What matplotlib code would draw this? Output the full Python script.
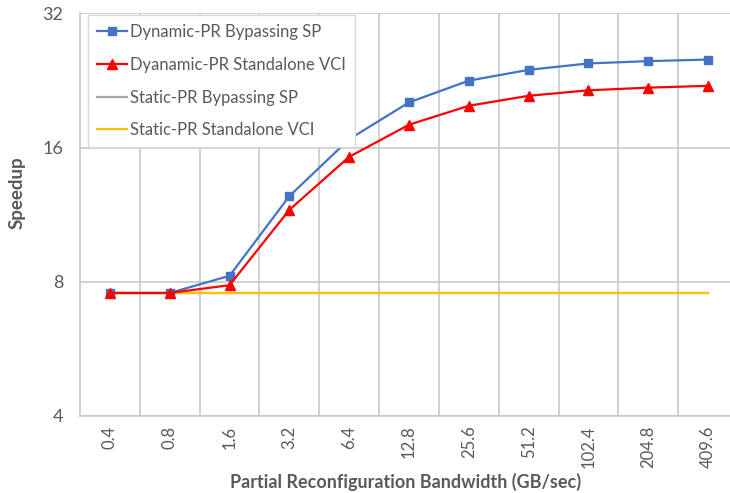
import matplotlib
matplotlib.use("Agg")
import matplotlib.pyplot as plt
from matplotlib.ticker import FixedLocator, FixedFormatter, NullFormatter

plt.rcParams['font.family'] = ['Lato', 'DejaVu Sans']

categories = ["0.4", "0.8", "1.6", "3.2", "6.4", "12.8", "25.6", "51.2", "102.4", "204.8", "409.6"]
dyn_bypass = [7.55, 7.55, 8.25, 12.45, 16.7, 20.2, 22.6, 23.9, 24.7, 25.0, 25.2]
dyn_standalone = [7.55, 7.55, 7.86, 11.6, 15.25, 18.0, 19.85, 20.9, 21.5, 21.8, 22.0]
static_bypass = [7.55] * 11
static_standalone = [7.55] * 11
y_ticks = [4, 8, 16, 32]

W, H = 730, 493
fig = plt.figure(figsize=(W / 100, H / 100), dpi=100)
left, right, top, bottom = 80, 738, 13.3, 416
ax = fig.add_axes([left / W, 1 - bottom / H, (right - left) / W, (bottom - top) / H])

x = list(range(len(categories)))
grid_c = '#c8c8c8'
text_c = '#595959'

ax.plot(x, static_bypass, color='#A5A5A5', lw=1.6, label='Static-PR Bypassing SP', zorder=3)
ax.plot(x, static_standalone, color='#FFC000', lw=1.6, label='Static-PR Standalone VCI', zorder=4)
ax.plot(x, dyn_bypass, color='#4472C4', lw=1.6, marker='s', ms=6, label='Dynamic-PR Bypassing SP', zorder=5)
ax.plot(x, dyn_standalone, color='#FF0000', lw=1.6, marker='^', ms=6.5, label='Dyanamic-PR Standalone VCI', zorder=6)

ax.set_yscale('log', base=2)
ax.set_ylim(4, 32)
ax.yaxis.set_major_locator(FixedLocator(y_ticks))
ax.yaxis.set_major_formatter(FixedFormatter([str(v) for v in y_ticks]))
ax.yaxis.set_minor_locator(FixedLocator([]))
ax.yaxis.set_minor_formatter(NullFormatter())

ax.set_xlim(-0.5, len(categories) - 0.5)
ax.set_xticks(x)
ax.set_xticklabels(categories, rotation=90)
ax.set_xticks([i + 0.5 for i in range(len(categories) - 1)], minor=True)

ax.grid(True, which='major', axis='y', color=grid_c, lw=1.2, zorder=0)
ax.grid(True, which='minor', axis='x', color=grid_c, lw=1.2, zorder=0)
ax.tick_params(axis='both', which='both', length=0, labelcolor=text_c)
ax.tick_params(axis='y', pad=12, labelsize=13)
ax.tick_params(axis='x', pad=7, labelsize=12)

for s in ['top', 'right']:
    ax.spines[s].set_visible(False)
for s in ['left', 'bottom']:
    ax.spines[s].set_color(grid_c)
    ax.spines[s].set_linewidth(1.2)

fig.text(406 / W, 1 - 482 / H, 'Partial Reconfiguration Bandwidth (GB/sec)', ha='center', va='center',
         fontsize=13, fontweight='bold', color=text_c)
fig.text(17 / W, 1 - 193 / H, 'Speedup', ha='center', va='center', rotation=90,
         fontsize=13.5, fontweight='bold', color=text_c)

handles, labels = ax.get_legend_handles_labels()
order = [2, 3, 0, 1]
leg = ax.legend([handles[i] for i in order], [labels[i] for i in order],
                loc='upper left', bbox_to_anchor=(88 / W, 1 - 15 / H), bbox_transform=fig.transFigure,
                borderaxespad=0, fontsize=12, frameon=True, fancybox=False, framealpha=1,
                edgecolor='#d9d9d9', handlelength=1.8, handletextpad=0.15, labelspacing=1.0,
                borderpad=0.55)
leg.get_frame().set_linewidth(1.0)
for t in leg.get_texts():
    t.set_color(text_c)
leg.set_zorder(10)

fig.savefig('out.png', dpi=100)
